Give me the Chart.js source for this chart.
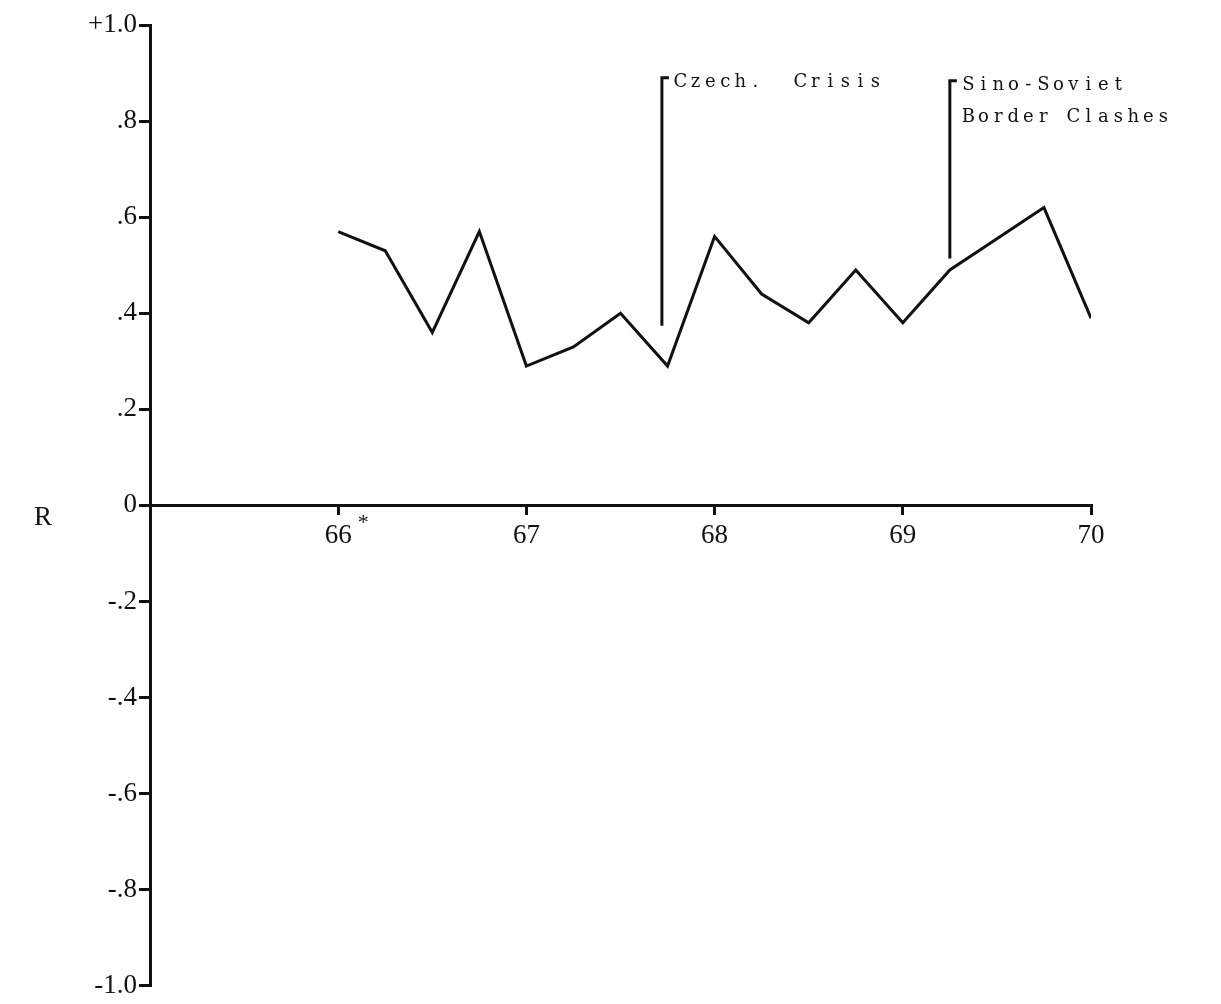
<!DOCTYPE html>
<html>
<head>
<meta charset="utf-8">
<script src="https://cdn.jsdelivr.net/npm/chart.js@4"></script>
<style>
  body { margin: 0; background: #fff; }
  canvas { display: block; }
</style>
</head>
<body>
<canvas id="chart" width="1221" height="1004"></canvas>
<script>
// quarterly correlation R, 1966-1970
const quarters = [66, 66.25, 66.5, 66.75, 67, 67.25, 67.5, 67.75, 68, 68.25, 68.5, 68.75, 69, 69.25, 69.5, 69.75, 70];
const rValues = [0.57, 0.53, 0.36, 0.57, 0.29, 0.33, 0.40, 0.29, 0.56, 0.44, 0.38, 0.49, 0.38, 0.49, 0.555, 0.62, 0.39];

const xTickValues = [66, 67, 68, 69, 70];
const xTickLabels = ['66', '67', '68', '69', '70'];
const yTickValues = [-1, -0.8, -0.6, -0.4, -0.2, 0, 0.2, 0.4, 0.6, 0.8, 1];
const yTickLabels = ['-1.0', '-.8', '-.6', '-.4', '-.2', '0', '.2', '.4', '.6', '.8', '+1.0'];

// event markers
const eventX = [67.72, 69.25];
const eventTop = [0.89, 0.884];
const eventBottom = [0.374, 0.514];
const eventLabels = [['Czech.  Crisis'], ['Sino-Soviet', 'Border Clashes']];

const ink = '#111';
const tickFont = { family: 'Liberation Serif', size: 27 };

const eventsPlugin = {
    id: 'events',
    afterDraw(chart) {
        const { ctx, scales: { x, y } } = chart;
        ctx.save();
        ctx.strokeStyle = ink;
        ctx.fillStyle = ink;
        ctx.lineWidth = 3;
        ctx.font = '18px "DejaVu Serif"';
        ctx.textAlign = 'center';
        ctx.textBaseline = 'alphabetic';
        const pitch = 15;
        eventX.forEach((ev, i) => {
            const px = x.getPixelForValue(ev);
            const top = y.getPixelForValue(eventTop[i]);
            const bottom = y.getPixelForValue(eventBottom[i]);
            ctx.beginPath();
            ctx.moveTo(px, bottom);
            ctx.lineTo(px, top);
            ctx.lineTo(px + 7, top);
            ctx.stroke();
            eventLabels[i].forEach((line, j) => {
                const base = top + 9 + j * 32;
                for (let k = 0; k < line.length; k++) {
                    ctx.fillText(line[k], px + 11 + pitch * (k + 0.5), base);
                }
            });
        });
        // footnote mark on the first year label
        const zeroY = y.getPixelForValue(0);
        ctx.font = '22px "Liberation Serif"';
        ctx.fillText('*', x.getPixelForValue(xTickValues[0]) + 25, zeroY + 24);
        // axis name
        ctx.font = '27px "Liberation Serif"';
        ctx.fillText('R', 43, zeroY + 20);
        ctx.restore();
    }
};

const ctx = document.getElementById('chart').getContext('2d');
const chart = new Chart(ctx, {
    type: 'line',
    data: {
        datasets: [{
            data: quarters.map((q, i) => ({ x: q, y: rValues[i] })),
            borderColor: ink,
            borderWidth: 3,
            pointRadius: 0,
            tension: 0,
            fill: false,
        }],
    },
    options: {
        responsive: false,
        animation: false,
        layout: {
            padding: { left: 0, right: 130, top: 25, bottom: 17 },
        },
        scales: {
            x: {
                type: 'linear',
                min: 65,
                max: 70,
                position: { y: 0 },
                afterFit: (scale) => { scale.height = 0; },
                afterBuildTicks: (scale) => {
                    scale.ticks = xTickValues.map(v => ({ value: v }));
                },
                grid: { drawOnChartArea: false, tickLength: 8, color: ink, lineWidth: 3 },
                border: { display: true, color: ink, width: 3 },
                ticks: {
                    autoSkip: false,
                    maxRotation: 0,
                    padding: 6,
                    color: ink,
                    font: tickFont,
                    callback: (v) => xTickLabels[xTickValues.indexOf(v)],
                },
            },
            y: {
                type: 'linear',
                min: -1,
                max: 1,
                afterFit: (scale) => { scale.width = 150; },
                afterBuildTicks: (scale) => {
                    scale.ticks = yTickValues.map(v => ({ value: v }));
                },
                grid: { drawOnChartArea: false, tickLength: 11, color: ink, lineWidth: 3 },
                border: { display: true, color: ink, width: 3 },
                ticks: {
                    autoSkip: false,
                    padding: 2,
                    color: ink,
                    font: tickFont,
                    callback: (v, i) => yTickLabels[i],
                },
            },
        },
        plugins: {
            legend: { display: false },
            tooltip: { enabled: false },
        },
    },
    plugins: [eventsPlugin],
});
</script>
</body>
</html>
